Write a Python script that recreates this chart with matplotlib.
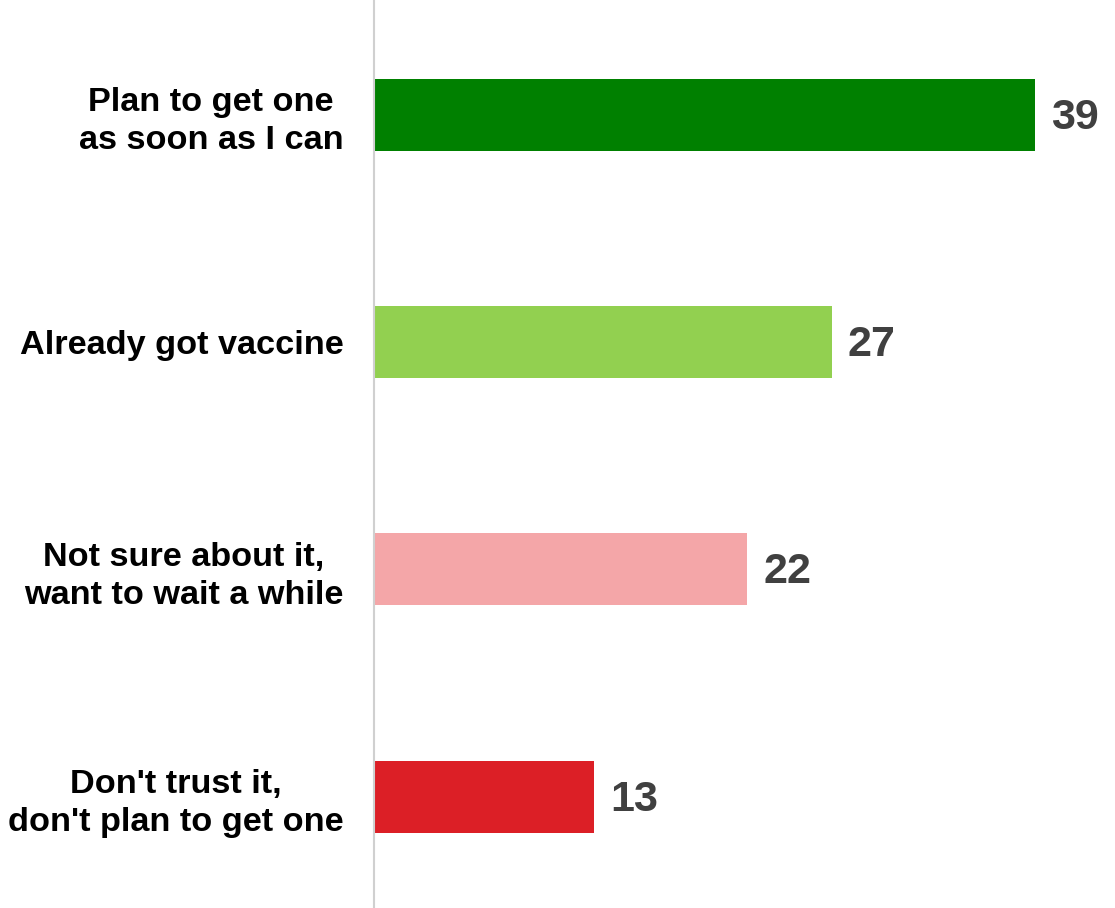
import matplotlib.pyplot as plt
from matplotlib.transforms import ScaledTranslation

# ==========================================
# DATA
# ==========================================

categories = [
    "Plan to get one\nas soon as I can",
    "Already got vaccine",
    "Not sure about it,\nwant to wait a while",
    "Don't trust it,\ndon't plan to get one"
]

values = [39, 27, 22, 13]

colors = [
    "#008000",
    "#92D050",
    "#F4A6A8",
    "#DC1F26"
]

# ==========================================
# FIGURE
# ==========================================

plt.rcParams["font.family"] = ["Liberation Sans", "DejaVu Sans"]

fig = plt.figure(
    figsize=(11.15, 9.08),
    dpi=100
)

ax = fig.add_axes([374 / 1115, 0, 741 / 1115, 1])

positions = list(range(len(categories)))

ax.barh(
    positions,
    values,
    height=0.317,
    color=colors
)

for pos, val in zip(positions, values):
    ax.annotate(
        str(val),
        xy=(val, pos),
        xytext=(16, -3),
        textcoords="offset pixels",
        ha="left",
        va="center",
        fontsize=31,
        fontweight="bold",
        color="#404040"
    )

ax.set_xlim(0, 43.7)
ax.set_ylim(3.49, -0.505)

ax.set_yticks(positions)
ax.set_yticklabels(
    categories,
    fontsize=24.7,
    fontweight="bold",
    color="black",
    linespacing=1.3
)

# nudge labels up a touch
shift = ScaledTranslation(0, 3 / 100, fig.dpi_scale_trans)
for label in ax.get_yticklabels():
    label.set_multialignment("center")
    label.set_transform(label.get_transform() + shift)

ax.tick_params(
    axis="y",
    length=0,
    pad=22
)
ax.set_xticks([])

for side in ["top", "right", "bottom"]:
    ax.spines[side].set_visible(False)

ax.spines["left"].set_color("#d0d0d0")
ax.spines["left"].set_linewidth(1.5)

fig.savefig("out.png", dpi=100)
plt.close()
